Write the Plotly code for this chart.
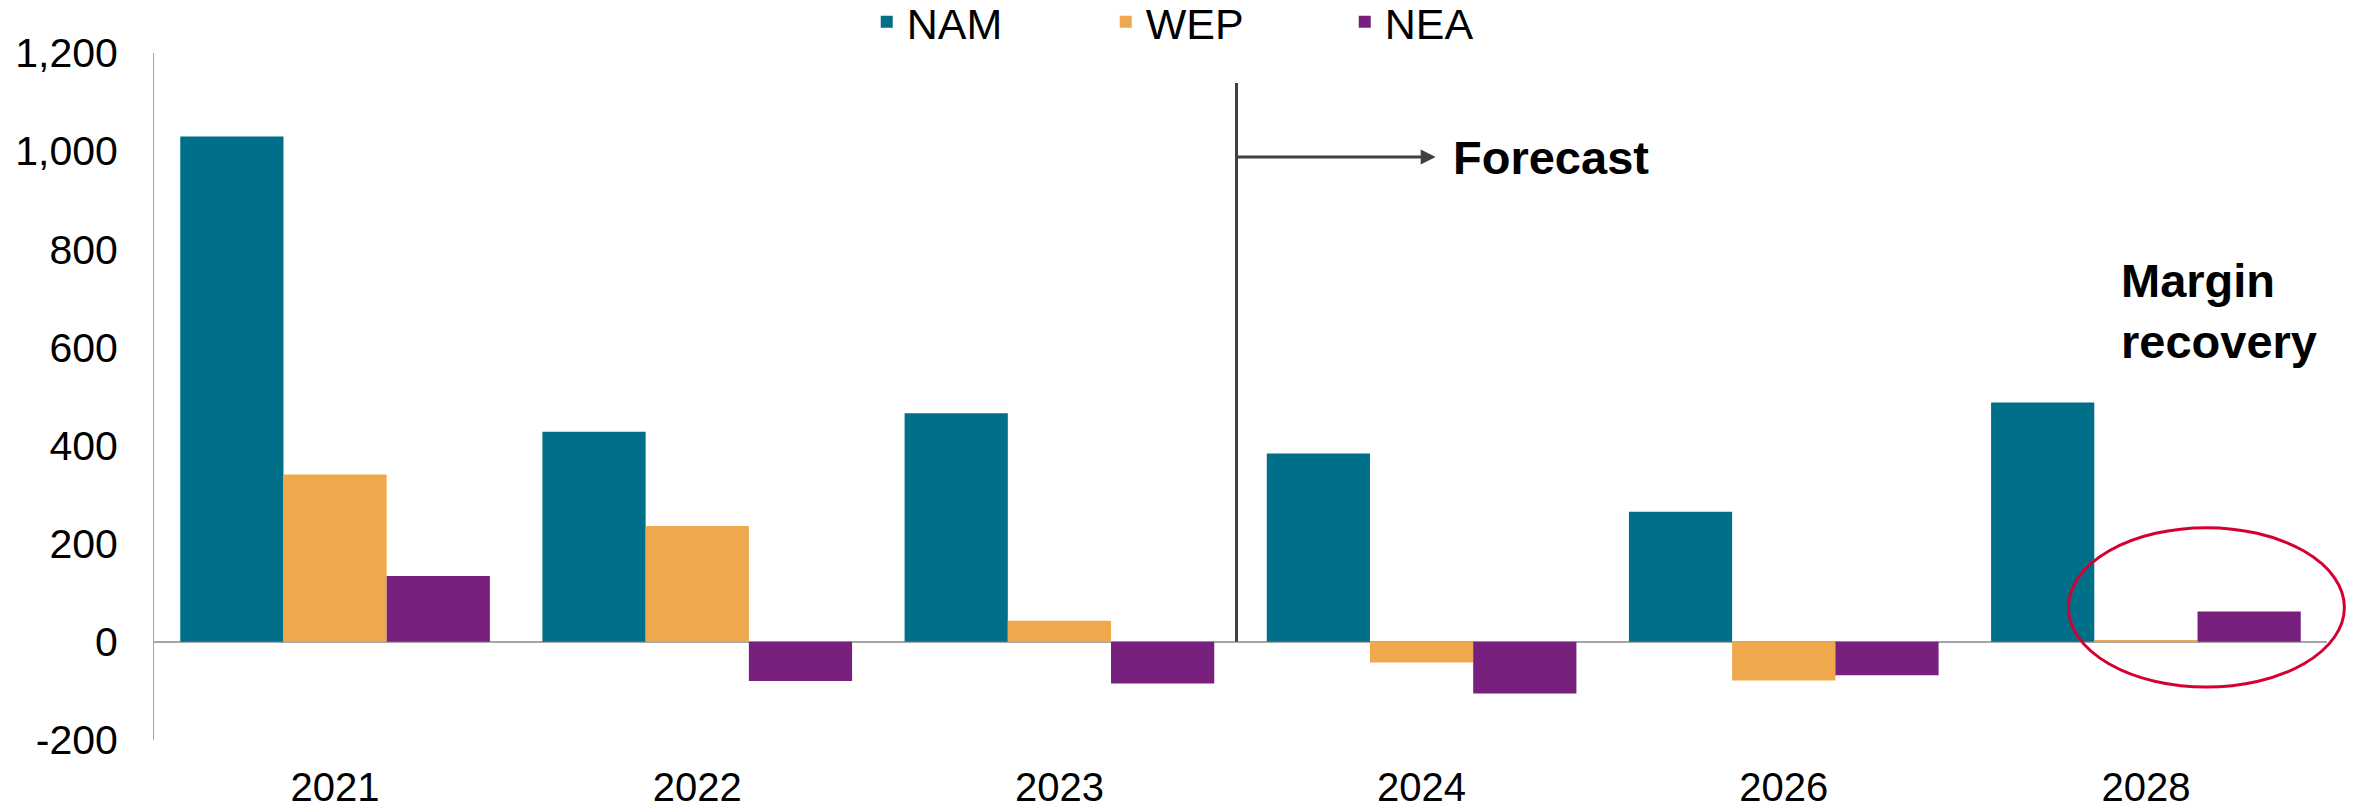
import plotly.graph_objects as go

years = ["2021", "2022", "2023", "2024", "2026", "2028"]
nam = [1030, 428, 466, 384, 265, 488]
wep = [341, 236, 43, -42, -79, 3]
nea = [134, -80, -85, -105, -68, 62]

series_names = ["NAM", "WEP", "NEA"]
series_colors = ["#006F89", "#F0A84C", "#77207D"]

y_tick_values = [-200, 0, 200, 400, 600, 800, 1000, 1200]
y_tick_labels = ["-200", "0", "200", "400", "600", "800", "1,000", "1,200"]

fig = go.Figure()
for name, vals, col in zip(series_names, [nam, wep, nea], series_colors):
    fig.add_trace(go.Bar(x=years, y=vals, name=name, marker=dict(color=col, line=dict(width=0))))

FONT = "Liberation Sans, Arial, sans-serif"

fig.update_layout(
    width=2358, height=810,
    margin=dict(l=154, r=31, t=53, b=70, autoexpand=False),
    paper_bgcolor="white", plot_bgcolor="white",
    barmode="group", bargap=0.145, bargroupgap=0,
    font=dict(family=FONT, color="black"),
    showlegend=True,
    legend=dict(orientation="h", x=0.328, xanchor="left", yref="container", y=0.973, yanchor="middle",
                font=dict(family="Liberation Sans Narrow, Arial Narrow, Liberation Sans", size=43, color="black"),
                entrywidth=194, bgcolor="rgba(0,0,0,0)"),
    xaxis=dict(type="category", showline=False, showgrid=False, zeroline=False, automargin=False,
               ticks="outside", ticklen=12, tickcolor="rgba(0,0,0,0)",
               tickfont=dict(family=FONT, size=40, color="black")),
    yaxis=dict(range=[-200, 1200], tickvals=y_tick_values, ticktext=y_tick_labels, showgrid=False,
               automargin=False,
               showline=True, linecolor="#A6A6A6", linewidth=1,
               zeroline=True, zerolinecolor="#A6A6A6", zerolinewidth=2,
               ticks="outside", ticklen=27, tickcolor="rgba(0,0,0,0)",
               tickfont=dict(family=FONT, size=41, color="black")),
)

# Forecast divider and arrow
fig.add_shape(type="line", xref="x", yref="y", x0=2.489, x1=2.489, y0=0, y1=1139,
              line=dict(color="#404040", width=3))
fig.add_annotation(xref="x", yref="y", axref="x", ayref="y", x=3.039, y=988, ax=2.489, ay=988,
                   text="", showarrow=True, arrowhead=2, arrowsize=1, arrowwidth=3, arrowcolor="#404040")
fig.add_annotation(xref="x", yref="y", x=3.08, y=988, text="<b>Forecast</b>", showarrow=False,
                   xanchor="left", yanchor="middle", font=dict(family=FONT, size=47, color="black"))
fig.add_annotation(xref="x", yref="y", x=4.925, y=675, text="<b>Margin<br>recovery</b>", showarrow=False,
                   xanchor="left", yanchor="middle", align="left",
                   font=dict(family=FONT, size=47, color="black"))
fig.add_shape(type="circle", xref="paper", yref="paper", x0=0.881, x1=1.008, y0=0.077, y1=0.309,
              line=dict(color="#D50032", width=3))

fig.write_html("out.html")
